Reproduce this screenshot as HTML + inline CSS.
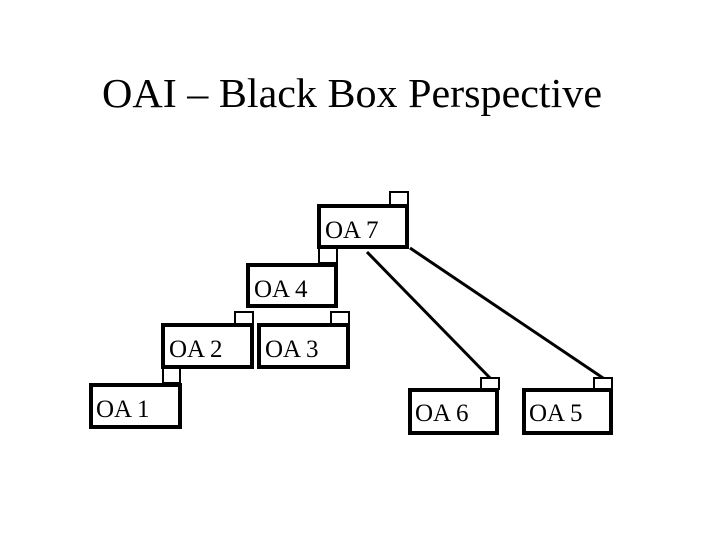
<!DOCTYPE html>
<html><head><meta charset="utf-8"><style>html,body{margin:0;padding:0;background:#fff;}svg{display:block;}</style></head>
<body>
<svg width="720" height="540" xmlns="http://www.w3.org/2000/svg" font-family="Liberation Serif, serif">
<rect width="720" height="540" fill="#fff"/>
<text x="102" y="107" font-size="41" textLength="500" lengthAdjust="spacingAndGlyphs">OAI – Black Box Perspective</text>
<g stroke="#000" fill="#fff">
<line x1="367" y1="252" x2="492" y2="380" stroke-width="3"/>
<line x1="410" y1="248" x2="606" y2="380" stroke-width="3"/>
<!-- tabs -->
<g stroke-width="2">
<rect x="390" y="192" width="18" height="13"/>
<rect x="319" y="248" width="18" height="15"/>
<rect x="235" y="312" width="18" height="12"/>
<rect x="331" y="312" width="18" height="12"/>
<rect x="163" y="368" width="17" height="15"/>
<rect x="481" y="378" width="18" height="11"/>
<rect x="594" y="378" width="18" height="11"/>
</g>
<g stroke-width="4">
<rect x="319" y="206" width="88" height="41"/>
<rect x="248" y="265" width="88" height="41"/>
<rect x="163" y="325" width="89" height="42"/>
<rect x="259" y="325" width="89" height="42"/>
<rect x="91" y="385" width="89" height="42"/>
<rect x="410" y="390" width="87" height="43"/>
<rect x="524" y="390" width="87" height="43"/>
</g>
</g>
<g font-size="25" fill="#000">
<text x="325" y="238">OA 7</text>
<text x="254" y="297">OA 4</text>
<text x="169" y="357">OA 2</text>
<text x="265" y="357">OA 3</text>
<text x="96" y="417">OA 1</text>
<text x="415" y="421">OA 6</text>
<text x="529" y="421">OA 5</text>
</g>
</svg>
</body></html>
